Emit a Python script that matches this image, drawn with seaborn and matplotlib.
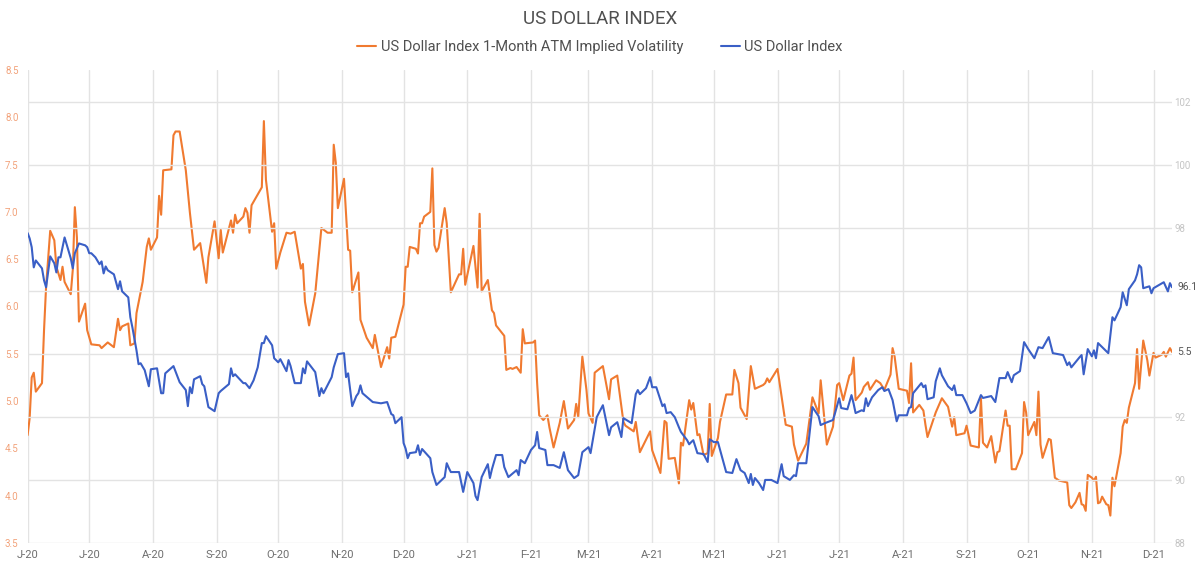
import matplotlib
matplotlib.use("Agg")
import matplotlib.pyplot as plt
from matplotlib.lines import Line2D
import seaborn as sns
import pandas as pd

# ---------------- data ----------------
vol_dates = [
    "2020-06-01", "2020-06-02", "2020-06-03", "2020-06-04", "2020-06-05", "2020-06-08", "2020-06-09", "2020-06-10",
    "2020-06-12", "2020-06-14", "2020-06-15", "2020-06-17", "2020-06-18", "2020-06-19", "2020-06-22", "2020-06-23",
    "2020-06-24", "2020-06-25", "2020-06-26", "2020-06-29", "2020-06-30", "2020-07-02", "2020-07-06", "2020-07-07",
    "2020-07-10", "2020-07-13", "2020-07-15", "2020-07-16", "2020-07-17", "2020-07-20", "2020-07-21", "2020-07-23",
    "2020-07-24", "2020-07-27", "2020-07-29", "2020-07-30", "2020-07-31", "2020-08-03", "2020-08-04", "2020-08-05",
    "2020-08-06", "2020-08-10", "2020-08-11", "2020-08-12", "2020-08-14", "2020-08-17", "2020-08-19", "2020-08-21",
    "2020-08-24", "2020-08-26", "2020-08-27", "2020-08-28", "2020-08-31", "2020-09-02", "2020-09-03", "2020-09-04",
    "2020-09-08", "2020-09-09", "2020-09-10", "2020-09-11", "2020-09-14", "2020-09-15", "2020-09-16", "2020-09-17",
    "2020-09-18", "2020-09-23", "2020-09-24", "2020-09-25", "2020-09-28", "2020-09-29", "2020-09-30", "2020-10-02",
    "2020-10-05", "2020-10-07", "2020-10-09", "2020-10-12", "2020-10-13", "2020-10-14", "2020-10-16", "2020-10-19",
    "2020-10-22", "2020-10-25", "2020-10-27", "2020-10-28", "2020-10-29", "2020-10-30", "2020-11-02", "2020-11-04",
    "2020-11-05", "2020-11-06", "2020-11-09", "2020-11-10", "2020-11-13", "2020-11-16", "2020-11-17", "2020-11-20",
    "2020-11-23", "2020-11-24", "2020-11-25", "2020-11-27", "2020-12-01", "2020-12-02", "2020-12-03", "2020-12-04",
    "2020-12-07", "2020-12-08", "2020-12-09", "2020-12-10", "2020-12-11", "2020-12-14", "2020-12-15", "2020-12-16",
    "2020-12-17", "2020-12-18", "2020-12-21", "2020-12-22", "2020-12-24", "2020-12-28", "2020-12-29", "2020-12-30",
    "2020-12-31", "2021-01-04", "2021-01-06", "2021-01-07", "2021-01-08", "2021-01-11", "2021-01-13", "2021-01-14",
    "2021-01-15", "2021-01-19", "2021-01-20", "2021-01-22", "2021-01-23", "2021-01-25", "2021-01-27", "2021-01-28",
    "2021-01-29", "2021-02-02", "2021-02-03", "2021-02-04", "2021-02-05", "2021-02-07", "2021-02-09", "2021-02-10",
    "2021-02-12", "2021-02-15", "2021-02-17", "2021-02-19", "2021-02-22", "2021-02-23", "2021-02-24", "2021-02-26",
    "2021-02-28", "2021-03-01", "2021-03-03", "2021-03-04", "2021-03-08", "2021-03-11", "2021-03-12", "2021-03-15",
    "2021-03-18", "2021-03-19", "2021-03-23", "2021-03-24", "2021-03-26", "2021-03-31", "2021-04-01", "2021-04-05",
    "2021-04-07", "2021-04-08", "2021-04-09", "2021-04-12", "2021-04-14", "2021-04-15", "2021-04-16", "2021-04-19",
    "2021-04-20", "2021-04-21", "2021-04-23", "2021-04-24", "2021-04-26", "2021-04-28", "2021-04-29", "2021-04-30",
    "2021-05-03", "2021-05-04", "2021-05-07", "2021-05-10", "2021-05-11", "2021-05-13", "2021-05-14", "2021-05-17",
    "2021-05-19", "2021-05-21", "2021-05-25", "2021-05-26", "2021-05-27", "2021-05-28", "2021-06-01", "2021-06-05",
    "2021-06-08", "2021-06-09", "2021-06-11", "2021-06-15", "2021-06-18", "2021-06-21", "2021-06-22", "2021-06-25",
    "2021-06-28", "2021-06-30", "2021-07-01", "2021-07-03", "2021-07-06", "2021-07-07", "2021-07-08", "2021-07-09",
    "2021-07-12", "2021-07-13", "2021-07-15", "2021-07-16", "2021-07-19", "2021-07-21", "2021-07-23", "2021-07-26",
    "2021-07-27", "2021-07-28", "2021-07-30", "2021-08-03", "2021-08-04", "2021-08-05", "2021-08-06", "2021-08-09",
    "2021-08-11", "2021-08-12", "2021-08-13", "2021-08-17", "2021-08-20", "2021-08-23", "2021-08-25", "2021-08-26",
    "2021-08-27", "2021-08-31", "2021-09-01", "2021-09-02", "2021-09-03", "2021-09-07", "2021-09-08", "2021-09-09",
    "2021-09-11", "2021-09-13", "2021-09-15", "2021-09-16", "2021-09-17", "2021-09-20", "2021-09-21", "2021-09-22",
    "2021-09-23", "2021-09-25", "2021-09-28", "2021-09-29", "2021-09-30", "2021-10-01", "2021-10-04", "2021-10-05",
    "2021-10-06", "2021-10-07", "2021-10-08", "2021-10-11", "2021-10-12", "2021-10-14", "2021-10-16", "2021-10-20",
    "2021-10-21", "2021-10-22", "2021-10-24", "2021-10-26", "2021-10-27", "2021-10-28", "2021-10-29", "2021-10-30",
    "2021-11-01", "2021-11-02", "2021-11-03", "2021-11-04", "2021-11-05", "2021-11-06", "2021-11-08", "2021-11-09",
    "2021-11-10", "2021-11-11", "2021-11-12", "2021-11-15", "2021-11-16", "2021-11-17", "2021-11-18", "2021-11-19",
    "2021-11-22", "2021-11-23", "2021-11-24", "2021-11-26", "2021-11-28", "2021-11-29", "2021-12-01", "2021-12-02",
    "2021-12-05", "2021-12-06", "2021-12-07", "2021-12-09", "2021-12-10",
]
vol_values = [
    4.64, 4.82, 5.25, 5.30, 5.10, 5.19, 5.75, 6.21,
    6.80, 6.70, 6.42, 6.28, 6.42, 6.26, 6.13, 6.39,
    7.05, 6.73, 5.84, 6.03, 5.75, 5.60, 5.59, 5.56,
    5.62, 5.57, 5.87, 5.75, 5.79, 5.82, 5.59, 5.61,
    5.93, 6.26, 6.63, 6.72, 6.60, 6.73, 7.17, 6.97,
    7.44, 7.45, 7.81, 7.85, 7.85, 7.44, 6.99, 6.60,
    6.67, 6.39, 6.25, 6.52, 6.90, 6.51, 6.81, 6.57,
    6.91, 6.78, 6.97, 6.88, 6.95, 7.04, 6.99, 6.78,
    7.07, 7.26, 7.96, 7.34, 6.79, 6.88, 6.40, 6.57,
    6.78, 6.77, 6.79, 6.40, 6.45, 6.05, 5.80, 6.14,
    6.83, 6.78, 6.78, 7.71, 7.52, 7.04, 7.35, 6.60,
    6.59, 6.15, 6.36, 5.86, 5.67, 5.56, 5.70, 5.36,
    5.57, 5.45, 5.67, 5.68, 6.02, 6.42, 6.42, 6.63,
    6.61, 6.56, 6.88, 6.88, 6.95, 7.00, 7.46, 6.65,
    6.58, 6.62, 7.04, 6.88, 6.15, 6.34, 6.34, 6.61,
    6.23, 6.64, 6.20, 6.98, 6.16, 6.28, 5.96, 5.93,
    5.80, 5.69, 5.33, 5.35, 5.34, 5.36, 5.30, 5.76,
    5.61, 5.62, 5.64, 5.19, 4.85, 4.80, 4.85, 4.72,
    4.51, 4.77, 5.00, 4.71, 4.80, 4.97, 4.83, 5.47,
    5.12, 4.87, 4.77, 5.30, 5.37, 5.02, 5.23, 5.27,
    4.78, 4.74, 4.68, 4.78, 4.46, 4.68, 4.48, 4.24,
    4.79, 4.77, 4.39, 4.40, 4.13, 4.56, 4.53, 5.01,
    4.91, 4.98, 4.64, 4.65, 4.43, 4.45, 4.97, 4.42,
    4.61, 4.78, 5.07, 5.07, 5.33, 5.19, 4.93, 4.81,
    5.37, 5.13, 5.17, 5.19, 5.24, 5.20, 5.34, 4.75,
    4.73, 4.54, 4.37, 4.55, 5.04, 4.87, 5.22, 4.54,
    4.73, 5.17, 5.19, 5.01, 5.27, 5.29, 5.46, 5.01,
    5.09, 5.15, 5.20, 5.12, 5.22, 5.19, 5.12, 5.28,
    5.56, 5.47, 5.13, 5.11, 4.98, 5.40, 4.88, 4.96,
    4.90, 4.75, 4.62, 4.88, 5.03, 4.94, 4.73, 4.83,
    4.64, 4.66, 4.74, 4.64, 4.53, 4.51, 5.03, 4.56,
    4.51, 4.63, 4.35, 4.46, 4.47, 4.90, 4.74, 4.74,
    4.28, 4.28, 4.45, 4.99, 4.88, 4.64, 4.78, 4.64,
    5.10, 4.54, 4.40, 4.60, 4.59, 4.19, 4.16, 4.14,
    3.90, 3.87, 3.93, 4.03, 3.91, 3.90, 3.84, 4.22,
    4.19, 4.16, 4.20, 3.92, 3.93, 3.99, 3.91, 3.90,
    3.79, 4.19, 4.10, 4.45, 4.73, 4.80, 4.77, 4.93,
    5.19, 5.55, 5.13, 5.64, 5.43, 5.27, 5.51, 5.46,
    5.49, 5.52, 5.47, 5.56, 5.52,
]

dxy_dates = [
    "2020-06-01", "2020-06-02", "2020-06-03", "2020-06-04", "2020-06-05", "2020-06-08", "2020-06-09", "2020-06-10",
    "2020-06-12", "2020-06-14", "2020-06-15", "2020-06-16", "2020-06-17", "2020-06-19", "2020-06-22", "2020-06-23",
    "2020-06-24", "2020-06-26", "2020-06-29", "2020-06-30", "2020-07-01", "2020-07-02", "2020-07-04", "2020-07-06",
    "2020-07-07", "2020-07-08", "2020-07-09", "2020-07-10", "2020-07-13", "2020-07-15", "2020-07-16", "2020-07-17",
    "2020-07-20", "2020-07-21", "2020-07-22", "2020-07-24", "2020-07-25", "2020-07-26", "2020-07-28", "2020-07-30",
    "2020-07-31", "2020-08-03", "2020-08-05", "2020-08-06", "2020-08-07", "2020-08-11", "2020-08-14", "2020-08-17",
    "2020-08-18", "2020-08-19", "2020-08-20", "2020-08-21", "2020-08-24", "2020-08-25", "2020-08-26", "2020-08-28",
    "2020-08-31", "2020-09-02", "2020-09-03", "2020-09-07", "2020-09-08", "2020-09-09", "2020-09-10", "2020-09-14",
    "2020-09-15", "2020-09-17", "2020-09-19", "2020-09-21", "2020-09-23", "2020-09-24", "2020-09-25", "2020-09-28",
    "2020-09-29", "2020-10-01", "2020-10-02", "2020-10-05", "2020-10-06", "2020-10-07", "2020-10-09", "2020-10-12",
    "2020-10-13", "2020-10-14", "2020-10-15", "2020-10-19", "2020-10-21", "2020-10-22", "2020-10-23", "2020-10-27",
    "2020-10-28", "2020-10-30", "2020-11-02", "2020-11-03", "2020-11-04", "2020-11-06", "2020-11-08", "2020-11-09",
    "2020-11-10", "2020-11-11", "2020-11-16", "2020-11-20", "2020-11-23", "2020-11-25", "2020-11-26", "2020-11-27",
    "2020-11-30", "2020-12-01", "2020-12-02", "2020-12-03", "2020-12-04", "2020-12-07", "2020-12-08", "2020-12-09",
    "2020-12-10", "2020-12-14", "2020-12-15", "2020-12-17", "2020-12-21", "2020-12-22", "2020-12-23", "2020-12-24",
    "2020-12-28", "2020-12-30", "2021-01-01", "2021-01-04", "2021-01-05", "2021-01-06", "2021-01-08", "2021-01-11",
    "2021-01-12", "2021-01-13", "2021-01-15", "2021-01-18", "2021-01-19", "2021-01-21", "2021-01-25", "2021-01-26",
    "2021-01-27", "2021-01-29", "2021-02-01", "2021-02-03", "2021-02-04", "2021-02-05", "2021-02-08", "2021-02-09",
    "2021-02-12", "2021-02-15", "2021-02-17", "2021-02-19", "2021-02-22", "2021-02-24", "2021-02-26", "2021-03-01",
    "2021-03-02", "2021-03-05", "2021-03-08", "2021-03-11", "2021-03-12", "2021-03-15", "2021-03-17", "2021-03-18",
    "2021-03-22", "2021-03-24", "2021-03-25", "2021-03-26", "2021-03-29", "2021-03-31", "2021-04-01", "2021-04-03",
    "2021-04-06", "2021-04-07", "2021-04-08", "2021-04-10", "2021-04-12", "2021-04-14", "2021-04-15", "2021-04-18",
    "2021-04-19", "2021-04-20", "2021-04-21", "2021-04-23", "2021-04-26", "2021-04-28", "2021-04-29", "2021-05-01",
    "2021-05-03", "2021-05-05", "2021-05-07", "2021-05-10", "2021-05-12", "2021-05-14", "2021-05-16", "2021-05-18",
    "2021-05-19", "2021-05-20", "2021-05-21", "2021-05-23", "2021-05-25", "2021-05-26", "2021-05-29", "2021-06-01",
    "2021-06-03", "2021-06-04", "2021-06-07", "2021-06-09", "2021-06-10", "2021-06-11", "2021-06-15", "2021-06-16",
    "2021-06-18", "2021-06-21", "2021-06-22", "2021-06-24", "2021-06-28", "2021-06-29", "2021-07-01", "2021-07-02",
    "2021-07-05", "2021-07-07", "2021-07-08", "2021-07-09", "2021-07-12", "2021-07-13", "2021-07-14", "2021-07-15",
    "2021-07-17", "2021-07-20", "2021-07-22", "2021-07-23", "2021-07-25", "2021-07-27", "2021-07-29", "2021-07-30",
    "2021-08-03", "2021-08-04", "2021-08-05", "2021-08-06", "2021-08-10", "2021-08-11", "2021-08-12", "2021-08-13",
    "2021-08-16", "2021-08-17", "2021-08-19", "2021-08-20", "2021-08-23", "2021-08-25", "2021-08-26", "2021-08-27",
    "2021-08-30", "2021-09-01", "2021-09-03", "2021-09-05", "2021-09-08", "2021-09-09", "2021-09-13", "2021-09-15",
    "2021-09-17", "2021-09-20", "2021-09-21", "2021-09-23", "2021-09-24", "2021-09-27", "2021-09-29", "2021-10-01",
    "2021-10-04", "2021-10-06", "2021-10-08", "2021-10-11", "2021-10-13", "2021-10-18", "2021-10-20", "2021-10-21",
    "2021-10-22", "2021-10-26", "2021-10-27", "2021-10-28", "2021-10-30", "2021-11-01", "2021-11-02", "2021-11-03",
    "2021-11-04", "2021-11-09", "2021-11-11", "2021-11-12", "2021-11-15", "2021-11-16", "2021-11-18", "2021-11-19",
    "2021-11-22", "2021-11-23", "2021-11-24", "2021-11-25", "2021-11-26", "2021-11-29", "2021-11-30", "2021-12-01",
    "2021-12-06", "2021-12-08", "2021-12-09", "2021-12-10",
]
dxy_values = [
    97.83, 97.66, 97.38, 96.74, 96.96, 96.71, 96.33, 96.11,
    97.09, 96.87, 96.58, 97.06, 97.06, 97.69, 97.03, 96.71,
    97.19, 97.50, 97.44, 97.38, 97.19, 97.19, 97.06, 96.84,
    96.93, 96.55, 96.77, 96.65, 96.52, 96.05, 96.30, 95.98,
    95.79, 95.16, 94.84, 94.11, 93.67, 93.70, 93.48, 92.97,
    93.51, 93.54, 92.75, 92.75, 93.38, 93.61, 93.10, 92.85,
    92.34, 92.94, 92.75, 93.19, 93.29, 93.04, 92.97, 92.31,
    92.18, 92.75, 92.82, 93.04, 93.54, 93.29, 93.35, 93.07,
    93.07, 92.91, 93.16, 93.57, 94.34, 94.34, 94.56, 94.27,
    93.86, 93.73, 93.83, 93.45, 93.80, 93.61, 93.07, 93.07,
    93.54, 93.38, 93.76, 93.42, 92.66, 92.91, 92.75, 93.26,
    93.57, 93.99, 94.02, 93.26, 93.38, 92.34, 92.66, 92.75,
    93.00, 92.75, 92.47, 92.43, 92.47, 92.09, 92.05, 91.80,
    91.99, 91.17, 90.99, 90.69, 90.85, 90.88, 91.10, 90.79,
    90.98, 90.69, 90.25, 89.84, 90.09, 90.53, 90.38, 90.25,
    90.25, 89.62, 90.25, 89.90, 89.49, 89.36, 90.09, 90.50,
    90.06, 90.34, 90.79, 90.79, 90.41, 90.09, 90.31, 90.15,
    90.63, 90.53, 90.95, 91.10, 91.52, 91.01, 90.95, 90.47,
    90.47, 90.38, 90.88, 90.31, 90.06, 90.15, 90.88, 91.04,
    90.85, 91.99, 92.37, 91.42, 91.67, 91.83, 91.36, 91.96,
    91.80, 92.72, 92.85, 92.72, 92.91, 93.26, 92.94, 92.94,
    92.34, 92.40, 92.12, 92.15, 91.99, 91.67, 91.52, 91.26,
    91.13, 91.20, 91.26, 90.85, 90.82, 90.57, 91.29, 91.20,
    91.20, 90.72, 90.25, 90.22, 90.66, 90.31, 90.22, 89.90,
    90.19, 89.84, 90.06, 89.90, 89.68, 90.00, 90.00, 89.90,
    90.50, 90.12, 90.00, 90.15, 90.12, 90.53, 90.53, 91.13,
    92.31, 92.02, 91.74, 91.80, 91.90, 92.12, 92.59, 92.28,
    92.24, 92.69, 92.43, 92.12, 92.21, 92.18, 92.59, 92.34,
    92.62, 92.85, 92.94, 92.82, 92.88, 92.53, 91.86, 92.05,
    92.05, 92.28, 92.31, 92.75, 93.07, 92.94, 93.00, 92.56,
    92.62, 93.13, 93.54, 93.32, 92.97, 92.85, 93.00, 92.69,
    92.69, 92.43, 92.12, 92.20, 92.69, 92.60, 92.66, 92.47,
    93.23, 93.23, 93.42, 93.10, 93.32, 93.45, 94.37, 94.15,
    93.86, 94.21, 94.18, 94.53, 94.02, 93.96, 93.64, 93.73,
    93.57, 93.89, 93.96, 93.35, 94.15, 93.92, 94.11, 93.86,
    94.34, 94.02, 95.16, 95.06, 95.48, 95.95, 95.54, 96.05,
    96.33, 96.52, 96.81, 96.74, 96.08, 96.14, 95.92, 96.08,
    96.27, 95.98, 96.24, 96.11,
]

month_labels = ["J-20", "J-20", "A-20", "S-20", "O-20", "N-20", "D-20", "J-21", "F-21", "M-21",
                "A-21", "M-21", "J-21", "J-21", "A-21", "S-21", "O-21", "N-21", "D-21"]
vol_ticks = [3.5, 4.0, 4.5, 5.0, 5.5, 6.0, 6.5, 7.0, 7.5, 8.0, 8.5]
dxy_ticks = [88, 90, 92, 94, 96, 98, 100, 102]
# the 94 and 96 labels sit under the end-of-line value labels in the reference
dxy_tick_labels = ["88", "90", "92", "", "", "98", "100", "102"]

vol_name = "US Dollar Index 1-Month ATM Implied Volatility"
dxy_name = "US Dollar Index"
title = "US DOLLAR INDEX"

# ---------------- style ----------------
ORANGE = "#F07A30"
BLUE = "#3A5FC6"
GRID = "#E3E3E3"

sns.set_style("white")
plt.rcParams["font.family"] = ["Roboto", "DejaVu Sans"]

W, H = 1200, 567
fig = plt.figure(figsize=(W / 100, H / 100), dpi=100)
left, right, top, bottom = 27.6, 1172, 70, 543
ax = fig.add_axes([left / W, 1 - bottom / H, (right - left) / W, (bottom - top) / H])
ax2 = ax.twinx()

vol_df = pd.DataFrame({"date": pd.to_datetime(vol_dates), "value": vol_values})
dxy_df = pd.DataFrame({"date": pd.to_datetime(dxy_dates), "value": dxy_values})

sns.lineplot(data=vol_df, x="date", y="value", ax=ax, color=ORANGE, linewidth=1.5)
sns.lineplot(data=dxy_df, x="date", y="value", ax=ax2, color=BLUE, linewidth=1.5)

month_ticks = pd.date_range("2020-06-01", periods=len(month_labels), freq="MS")
ax.set_xlim(vol_df["date"].iloc[0], vol_df["date"].iloc[-1])
ax.set_xticks(month_ticks)
ax.set_xticklabels(month_labels)
ax.set_ylim(vol_ticks[0], vol_ticks[-1])
ax.set_yticks(vol_ticks)
ax.set_yticklabels([f"{v:.1f}" for v in vol_ticks])
ax2.set_ylim(88, 103)
ax2.set_yticks(dxy_ticks)
ax2.set_yticklabels(dxy_tick_labels)

for a in (ax, ax2):
    a.set_xlabel("")
    a.set_ylabel("")
    for s in a.spines.values():
        s.set_visible(False)

ax.grid(axis="x", color=GRID, linewidth=1.0)
ax.grid(axis="y", visible=False)
ax2.grid(axis="y", color=GRID, linewidth=1.0)
ax2.grid(axis="x", visible=False)
ax.set_axisbelow(True)
ax2.set_axisbelow(True)

ax.tick_params(axis="x", length=0, pad=5, labelsize=8, labelcolor="#6E6E6E")
ax.tick_params(axis="y", length=0, pad=6.5, labelsize=7, labelcolor="#F2A27A")
ax2.tick_params(axis="y", length=0, pad=1.5, labelsize=7, labelcolor="#C4C4C4")

# end-of-line value labels
ax2.annotate(f"{dxy_values[-1]:.1f}", xy=(dxy_df["date"].iloc[-1], dxy_values[-1]),
             xytext=(4, 0), textcoords="offset points", va="center", ha="left",
             fontsize=7.5, color="#555555", annotation_clip=False)
ax.annotate(f"{vol_values[-1]:.1f}", xy=(vol_df["date"].iloc[-1], vol_values[-1]),
            xytext=(4, 0), textcoords="offset points", va="center", ha="left",
            fontsize=7.5, color="#555555", annotation_clip=False)

fig.text(0.5, 1 - 19 / H, title, ha="center", va="center", fontsize=13.5, color="#505050")
handles = [Line2D([], [], color=ORANGE, linewidth=1.5), Line2D([], [], color=BLUE, linewidth=1.5)]
fig.legend(handles, [vol_name, dxy_name], loc="center", bbox_to_anchor=(0.5, 1 - 47 / H),
           ncol=2, frameon=False, fontsize=10.5, handlelength=1.3, handletextpad=0.3,
           columnspacing=2.6, labelcolor="#505050")

fig.savefig("out.png", dpi=100)
